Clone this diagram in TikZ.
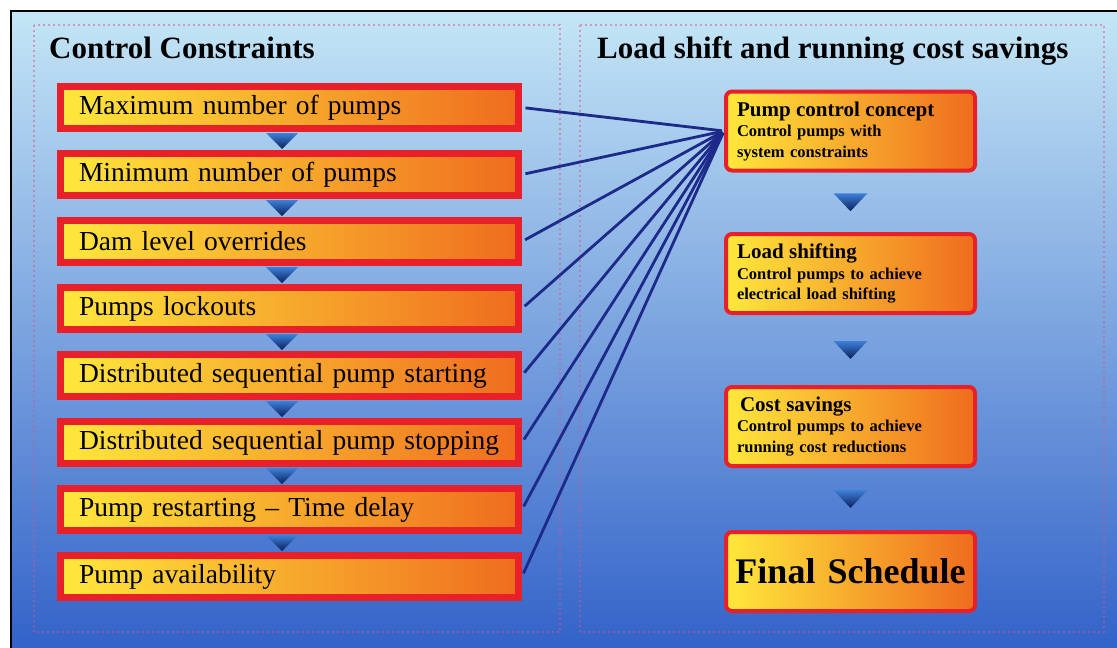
\documentclass[tikz,border=0pt]{standalone}
\usepackage{fontspec}
\setmainfont{Liberation Serif}
\usetikzlibrary{calc}

\definecolor{skytop}{HTML}{C4E6F6}
\definecolor{skymid}{HTML}{78B8EA}
\definecolor{skybot}{HTML}{3060C8}
\definecolor{boxred}{HTML}{E8202A}
\definecolor{boxyellow}{HTML}{FFE83C}
\definecolor{boxamber}{HTML}{F8A82A}
\definecolor{boxorange}{HTML}{EF6C1E}
\definecolor{linkblue}{HTML}{1E2A8A}
\definecolor{trilight}{HTML}{3D80D8}
\definecolor{trideep}{HTML}{0B1F5C}
\definecolor{dotpink}{HTML}{E0508C}

\tikzset{
  heading/.style={font=\bfseries\fontsize{31}{34}\selectfont, inner sep=0pt},
  limit/.style={draw=boxred, line width=7pt, left color=boxyellow, middle color=boxamber,
    right color=boxorange, minimum width=458pt, minimum height=42pt, text width=421pt,
    inner xsep=18.5pt, align=left, font=\fontsize{27.5}{30}\selectfont},
  stage/.style={draw=boxred, line width=4pt, rounded corners=6pt, left color=boxyellow,
    middle color=boxamber, right color=boxorange, minimum width=249pt, minimum height=79pt,
    text width=227pt, inner xsep=11pt, align=left, font=\bfseries\fontsize{16.5}{20.5}\selectfont},
  fanline/.style={draw=linkblue, line width=2.8pt, shorten <=3.5pt, shorten >=2pt},
  tri/.style={top color=trilight, bottom color=trideep},
  pinkdots/.style={draw=dotpink, opacity=0.5, line width=2pt, dash pattern=on 2pt off 3pt},
}

\begin{document}
\begin{tikzpicture}[x=1pt, y=-1pt]
    \useasboundingbox (0,0) rectangle (1117,648);
    \clip (0,0) rectangle (1117,648);

    % Fondo y marco
    \shade[top color=skytop, middle color=skymid, bottom color=skybot] (11,11) rectangle (1130,660);
    \draw[line width=2pt] (11,660) -- (11,11) -- (1130,11);

    % Marcos punteados
    \draw[pinkdots] (34,25) rectangle (560,632);
    \draw[pinkdots] (580,25) rectangle (1104,632);

    % Titulos
    \node[heading, anchor=base west] (lefthead) at (49,58) {Control Constraints};
    \node[heading, anchor=base west] (righthead) at (597,58) {Load shift and running cost savings};

    % Restricciones de control
    \foreach \t [count=\i] in {Maximum number of pumps, Minimum number of pumps,
        Dam level overrides, Pumps lockouts, Distributed sequential pump starting,
        Distributed sequential pump stopping, Pump restarting \textendash{} Time delay,
        Pump availability}
        \node[limit] (c\i) at (289.5,40.5+67*\i) {\t};

    % Triangulos entre restricciones
    \foreach \i [evaluate=\i as \j using int(\i+1)] in {1,...,7}
        \path[tri] ($(c\i.south)!0.5!(c\j.north)+(-23.5,-8)$) -- ++(32,0) -- ++(-16,16) -- cycle;

    % Etapas
    \node[stage] (pc) at (850.5,131) {{\fontsize{21}{24}\selectfont Pump control concept}\\
        Control pumps with\\ system constraints};
    \node[stage] (ls) at (850.5,273.5) {{\fontsize{21}{24}\selectfont Load shifting}\\
        Control pumps to achieve\\ electrical load shifting};
    \node[stage] (cs) at (850.5,426.5) {{\fontsize{21}{24}\selectfont\hspace{3pt}Cost savings}\\
        Control pumps to achieve\\ running cost reductions};
    \node[stage, align=center, text width=241pt, inner xsep=4pt,
        font=\bfseries\fontsize{36}{40}\selectfont] (fs) at (850.5,571.5) {Final Schedule};

    % Triangulos entre etapas
    \foreach \a/\b in {pc/ls, ls/cs, cs/fs}
        \path[tri] ($(\a.south)!0.5!(\b.north)+(-17,-9)$) -- ++(34,0) -- ++(-17,18) -- cycle;

    % Lineas hacia el concepto
    \foreach \i in {1,...,8}
        \draw[fanline] (c\i.east) -- (pc.west);
\end{tikzpicture}
\end{document}
